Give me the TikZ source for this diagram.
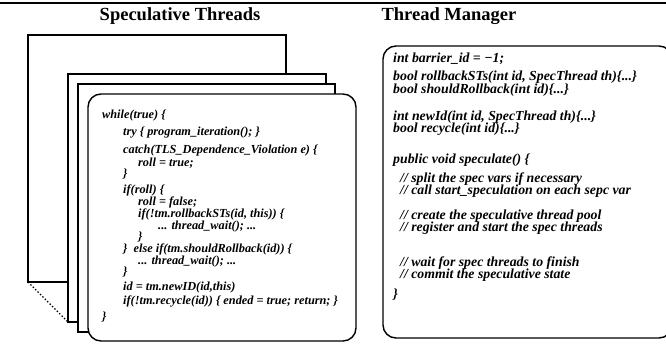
\documentclass[tikz,border=0pt]{standalone}
\usepackage{fontspec}
\setmainfont{Liberation Serif}
\begin{document}
\begin{tikzpicture}[x=1pt,y=-1pt,
  frame/.style={draw=black,line width=1.4pt,fill=white},
  card/.style={draw=black,line width=1.4pt,fill=white,rounded corners=13pt},
  title/.style={font=\fontsize{18.5}{21}\selectfont\bfseries,anchor=base},
  code/.style={font=\fontsize{12.3}{14}\selectfont\bfseries\itshape,anchor=base west,inner sep=0pt},
  mcode/.style={font=\fontsize{13.8}{16}\selectfont\bfseries\itshape,anchor=base west,inner sep=0pt}]
\useasboundingbox (0,0) rectangle (666,343);

% top rule
\coordinate (ruleL) at (0,3);
\coordinate (ruleR) at (666,3);
\draw[line width=2pt] (ruleL) -- (ruleR);

% column titles
\node[title] (tST) at (180,20) {Speculative Threads};
\node[title] (tTM) at (449,20) {Thread Manager};

% stack of thread frames
\draw[frame] (28,35) rectangle (286,282);
\coordinate (f1bl) at (28,282);
\draw[frame] (68,74) rectangle (326,322);
\coordinate (f2bl) at (68,322);
\draw[frame] (78,84) rectangle (335,332);
\draw[card] (88,94) rectangle (356,341);
\draw[line width=1.4pt,dotted] (f1bl) -- (f2bl);

% thread body
\node[code] (s1)  at (102,118) {while(true) \{};
\node[code] (s2)  at (123,135) {try \{ program\_iteration(); \}};
\node[code] (s3)  at (123,153) {catch(TLS\_Dependence\_Violation e) \{};
\node[code] (s4)  at (138,166) {roll = true;};
\node[code] (s5)  at (123,177) {\}};
\node[code] (s6)  at (123,193) {if(roll) \{};
\node[code] (s7)  at (138,205) {roll = false;};
\node[code] (s8)  at (138,217) {if(!tm.rollbackSTs(id, this)) \{};
\node[code] (s9)  at (158,229) {... thread\_wait(); ...};
\node[code] (s10) at (138,240.5) {\}};
\node[code] (s11) at (123,252) {\}\ \ else if(tm.shouldRollback(id)) \{};
\node[code] (s12) at (138,264) {... thread\_wait(); ...};
\node[code] (s13) at (123,275) {\}};
\node[code] (s14) at (123,290) {id = tm.newID(id,this)};
\node[code] (s15) at (123,304) {if(!tm.recycle(id)) \{ ended = true; return; \}};
\node[code] (s16) at (102,320) {\}};

% thread manager
\draw[card] (383,46) rectangle (672,338);
\node[mcode] (m1)  at (393,62)    {int barrier\_id = −1;};
\node[mcode] (m2)  at (393,80.5)  {bool rollbackSTs(int id, SpecThread th)\{...\}};
\node[mcode] (m3)  at (393,93.2)  {bool shouldRollback(int id)\{...\}};
\node[mcode] (m4)  at (393,120)   {int newId(int id, SpecThread th)\{...\}};
\node[mcode] (m5)  at (393,132.7) {bool recycle(int id)\{...\}};
\node[mcode] (m6)  at (393,163)   {public void speculate() \{};
\node[mcode] (m7)  at (400,182)   {// split the spec vars if necessary};
\node[mcode] (m8)  at (400,194.7) {// call start\_speculation on each sepc var};
\node[mcode] (m9)  at (400,219)   {// create the speculative thread pool};
\node[mcode] (m10) at (400,231.7) {// register and start the spec threads};
\node[mcode] (m11) at (400,266)   {// wait for spec threads to finish};
\node[mcode] (m12) at (400,278.7) {// commit the speculative state};
\node[mcode] (m13) at (393,298)   {\}};
\end{tikzpicture}
\end{document}
